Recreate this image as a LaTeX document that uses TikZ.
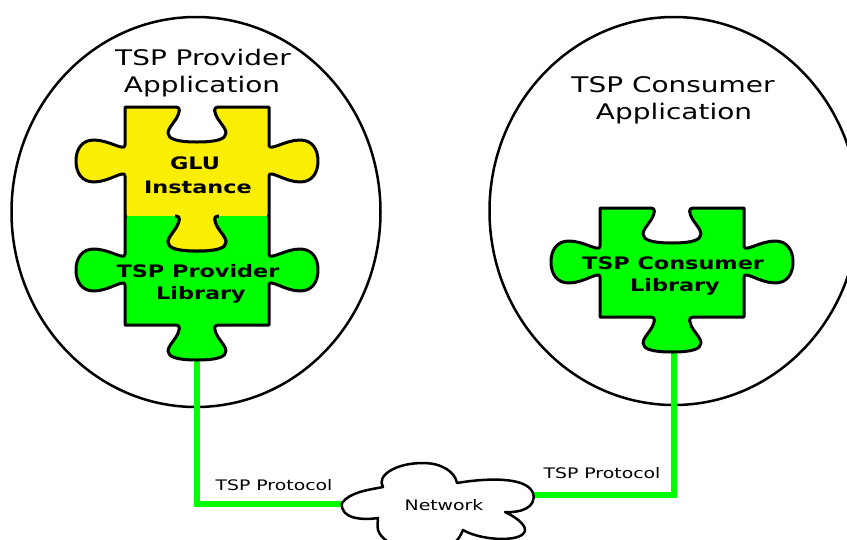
\documentclass[tikz,border=0pt]{standalone}
\usepackage{fontspec}
\setmainfont[FakeStretch=1.3]{DejaVu Sans}
\definecolor{pieceyellow}{HTML}{FAEE05}
\definecolor{piecegreen}{HTML}{00FF00}
\tikzset{app/.style = {draw, line width = 2.5, ellipse, inner sep = 0}}
\tikzset{piece/.style = {draw, line width = 3, line join = round}}
\tikzset{link/.style = {draw = piecegreen, line width = 5.2, line join = miter}}
\tikzset{seam/.style = {line width = 1.6}}
\tikzset{title/.style = {font = \fontsize{21.5}{21.5}\selectfont, inner sep = 0}}
\tikzset{lib/.style = {font = \fontsize{17.2}{17.2}\selectfont\bfseries, inner sep = 0}}
\tikzset{small/.style = {font = \fontsize{14.5}{14.5}\selectfont, inner sep = 0}}
\usetikzlibrary{shapes.geometric}
% outline of one piece, origin at its top left corner
\newcommand{\drawpiece}[3]{
  \draw [piece, fill = #3, shift = {(#1, #2)}]
    (0, 0) -- (51, 0) .. controls (56, 0) and (55, 5) .. (51, 12)
    .. controls (47, 18) and (43, 22) .. (43, 26)
    .. controls (43, 32) and (52, 35) .. (72, 35)
    .. controls (92, 35) and (101, 32) .. (101, 26)
    .. controls (101, 22) and (97, 18) .. (93, 12)
    .. controls (89, 5) and (88, 0) .. (93, 0) -- (144, 0)
    -- (144, 38) .. controls (144, 45) and (160, 33) .. (175, 33)
    .. controls (187, 33) and (193, 42) .. (193, 54)
    .. controls (193, 66) and (187, 75) .. (175, 75)
    .. controls (160, 75) and (144, 62) .. (144, 69)
    -- (144, 109) -- (93, 109) .. controls (88, 109) and (89, 114) .. (93, 121)
    .. controls (97, 127) and (101, 131) .. (101, 135)
    .. controls (101, 141) and (92, 144) .. (72, 144)
    .. controls (52, 144) and (43, 141) .. (43, 135)
    .. controls (43, 131) and (47, 127) .. (51, 121)
    .. controls (55, 114) and (56, 109) .. (51, 109)
    -- (0, 109) -- (0, 69) .. controls (0, 62) and (-16, 75) .. (-31, 75)
    .. controls (-43, 75) and (-49, 66) .. (-49, 54)
    .. controls (-49, 42) and (-43, 33) .. (-31, 33)
    .. controls (-16, 33) and (0, 45) .. (0, 38) -- cycle;
}

\begin{document}
\begin{tikzpicture}[x = 1pt, y = -1pt]
    \useasboundingbox (0, 0) rectangle (847, 539);
    \node [app, minimum width = 369, minimum height = 390] (provider) at (196, 212) {};
    \node [app, minimum width = 369, minimum height = 388] (consumer) at (674, 211) {};
    \node [title] (provider1) at (203, 57) {TSP Provider};
    \node [title] (provider2) at (202, 87) {Application};
    \node [title] (consumer1) at (673, 85) {TSP Consumer};
    \node [title] (consumer2) at (674, 114) {Application};
    \coordinate (provider tab) at (197, 359);
    \coordinate (consumer tab) at (674, 351);
    \coordinate (network west) at (344, 504);
    \coordinate (network east) at (533, 495);
    % connectors go under the pieces
    \draw [link] (provider tab) |- (network west);
    \draw [link] (consumer tab) |- (network east);
    \drawpiece{125}{216}{piecegreen}
    \drawpiece{125}{107}{pieceyellow}
    \drawpiece{600}{208}{piecegreen}
    \draw [seam, pieceyellow] (127, 215.2) -- (175, 215.2) (219, 215.2) -- (267, 215.2);
    \draw [seam, piecegreen] (127, 216.8) -- (175, 216.8) (219, 216.8) -- (267, 216.8);
    \draw [line width = 2.5, fill = white, line join = round]
      (342, 503) .. controls (350, 492) and (368, 490) .. (383, 487)
      .. controls (376, 476) and (395, 463) .. (423, 463)
      .. controls (442, 463) and (455, 472) .. (457, 483)
      .. controls (480, 479) and (526, 475) .. (533, 493)
      .. controls (537, 508) and (520, 513) .. (505, 512)
      .. controls (518, 518) and (530, 528) .. (523, 534)
      .. controls (515, 542) and (480, 540) .. (463, 530)
      .. controls (460, 536) and (458, 545) .. (440, 548)
      .. controls (420, 550) and (385, 550) .. (378, 530)
      .. controls (377, 525) and (378, 521) .. (378, 518)
      .. controls (365, 520) and (340, 520) .. (342, 503) -- cycle;
    \node [lib] (glu1) at (195, 163) {GLU};
    \node [lib] (glu2) at (198, 187) {Instance};
    \node [lib] (provlib1) at (198, 271) {TSP Provider};
    \node [lib] (provlib2) at (201, 295) {Library};
    \node [lib] (conslib1) at (673, 263) {TSP Consumer};
    \node [lib] (conslib2) at (675, 287) {Library};
    \node [small] (protocol1) at (274, 485) {TSP Protocol};
    \node [small] (protocol2) at (602, 473) {TSP Protocol};
    \node [small] (network) at (444, 505) {Network};
  \end{tikzpicture}
\end{document}
